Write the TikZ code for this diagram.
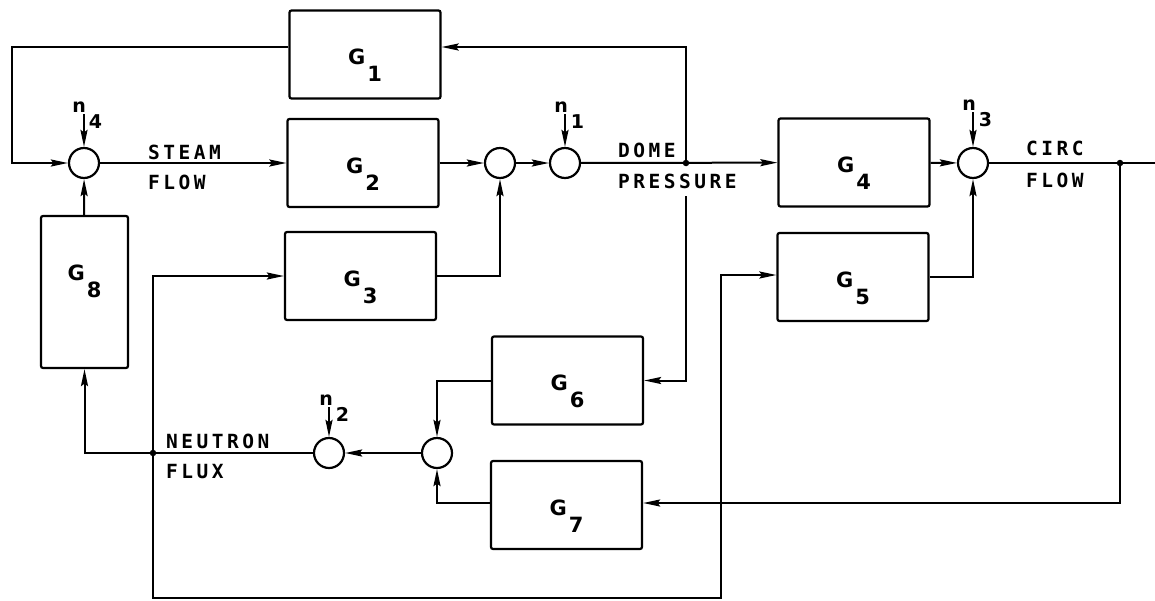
\documentclass[tikz,border=0pt]{standalone}
\usepackage{fontspec}
\newfontfamily\plotfont[LetterSpace=18]{DejaVu Sans Mono}
\newfontfamily\gfont{DejaVu Sans}
\usetikzlibrary{arrows.meta,positioning}
\newcommand{\gsub}[2][10pt]{\raisebox{-#1}[0pt][0pt]{G\hspace{2pt}\raisebox{-17pt}{#2}}}
\newcommand{\nsub}[1]{n\rlap{\hspace{3pt}\raisebox{-16pt}[0pt][0pt]{#1}}}
\tikzset{
  blk/.style={draw,line width=2.2pt,rounded corners=2pt,minimum width=151pt,minimum height=88pt,inner sep=0pt,font=\gfont\bfseries\fontsize{21}{21}\selectfont},
  sumj/.style={draw,circle,line width=2.2pt,minimum size=30pt,inner sep=0pt},
  jdot/.style={circle,fill,inner sep=0pt,minimum size=6.5pt},
  wlab/.style={anchor=west,inner sep=0pt,font=\plotfont\bfseries\fontsize{19.5}{19.5}\selectfont},
  nlab/.style={anchor=base east,inner sep=0pt,font=\gfont\bfseries\fontsize{19}{19}\selectfont},
  wire/.style={line width=2pt},
  arr/.style={wire,-{Stealth[length=17pt,width=7pt,inset=2.5pt]}},
}
\begin{document}
\begin{tikzpicture}[x=1pt,y=-1pt]
\useasboundingbox (0,0) rectangle (1155,600);
\node[blk] (G1) at (365,54.5) {\gsub{1}};
\node[blk] (G2) at (363,163) {\gsub{2}};
\node[blk] (G3) at (360.5,276) {\gsub{3}};
\node[blk] (G4) at (854,162.5) {\gsub{4}};
\node[blk] (G5) at (853,277) {\gsub{5}};
\node[blk] (G6) at (567.5,380.5) {\gsub{6}};
\node[blk] (G7) at (566.5,505) {\gsub{7}};
\node[blk,minimum width=87pt,minimum height=152pt] (G8) at (84.5,292) {\gsub[-12pt]{8}};
\node[sumj] (s4) at (84,163) {};
\node[sumj] (sa) at (500,163) {};
\node[sumj] (s1) at (565,163) {};
\node[sumj] (s3) at (973,163) {};
\node[sumj] (s2) at (329,453) {};
\node[sumj] (sb) at (437,453) {};
\node[nlab] (n4) at (86,112) {\nsub{4}};
\node[nlab] (n1) at (568,112) {\nsub{1}};
\node[nlab] (n3) at (976,110) {\nsub{3}};
\node[nlab] (n2) at (333,405) {\nsub{2}};
\coordinate (dp) at (686,163);
\coordinate (cf) at (1120,163);
\coordinate (nf) at (153,453);
\coordinate (fbl) at (12,163);
\coordinate (bot) at (721,598);
\coordinate (out) at (1155,163);
\draw[arr] (s4) -- (G2);
\draw[arr] (G2) -- (sa);
\draw[arr] (sa) -- (s1);
\draw[arr] (s1) -- (G4);
\draw[arr] (G4) -- (s3);
\draw[wire] (s3) -- (out);
\draw[arr] (G3) -| (sa);
\draw[arr] (G5) -| (s3);
\draw[arr] (G8) -- (s4);
\draw[arr] (dp) |- ([yshift=7.5pt]G1.east);
\draw[arr] ([yshift=7.5pt]G1.west) -| (fbl) -- (s4);
\draw[arr] (dp) |- (G6);
\draw[arr] (cf) |- ([yshift=2pt]G7.east);
\draw[arr] (G6) -| (sb);
\draw[arr] ([yshift=2pt]G7.west) -| (sb);
\draw[arr] (sb) -- (s2);
\draw[wire] (s2) -- (nf);
\draw[arr] (nf) -| (G8);
\draw[arr] (nf) |- (G3);
\draw[arr] (nf) |- (bot) |- ([yshift=2pt]G5.west);
\foreach \n/\s in {n4/s4,n1/s1,n3/s3,n2/s2}
  \draw[arr] ([yshift=-2pt]\s |- \n.south) -- (\s);
\node[wlab] (steam) at (148,152) {STEAM};
\node[wlab] (sflow) at (148,182) {FLOW};
\node[wlab] (dome) at (618,150) {DOME};
\node[wlab,fill=white,inner xsep=0pt,inner ysep=8pt] (press) at (618,181) {PRESSURE};
\node[wlab] (circ) at (1026,148) {CIRC};
\node[wlab] (cflow) at (1026,180) {FLOW};
\node[wlab] (neut) at (166,441) {NEUTRON};
\node[wlab] (flux) at (166,472) {FLUX};
\foreach \d in {dp,cf,nf}
  \node[jdot] at (\d) {};
\end{tikzpicture}
\end{document}
